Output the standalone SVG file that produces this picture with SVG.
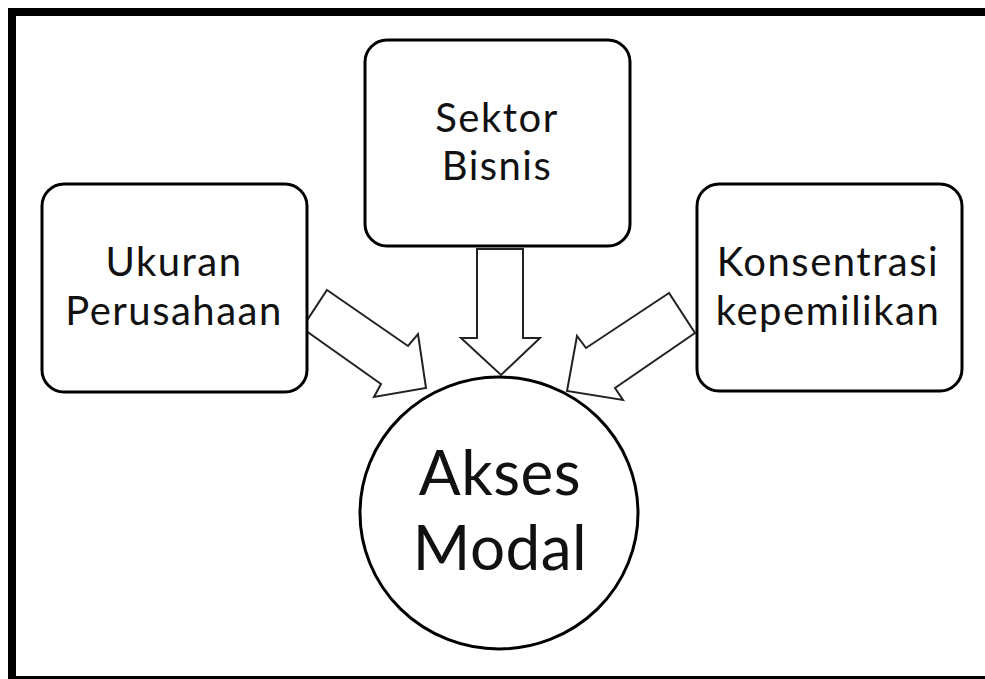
<svg xmlns="http://www.w3.org/2000/svg" width="985" height="679" viewBox="0 0 985 679">
<style>
.box{fill:#fff;stroke:#000;stroke-width:3}
.lbl{font-family:Lato,"Open Sans","Liberation Sans",sans-serif;font-size:40px;letter-spacing:1.5px;fill:#111;text-anchor:middle}
.big{font-size:62px;letter-spacing:0.5px}
.arr{fill:#fff;stroke:#222;stroke-width:2;stroke-linejoin:miter}
</style>
<rect x="0" y="0" width="985" height="679" fill="#fff"/>
<rect x="12" y="12" width="980" height="668" fill="#fff" stroke="#000" stroke-width="8"/>
<g id="connectors">
<polygon class="arr" points="327,290 408,346 418,334 426,388 374,397 381,384 302,328"/>
<polygon class="arr" points="477,249 523,249 523,338 540,338 501,375 461,338 477,338"/>
<polygon class="arr" points="669,293 586,348 577,336 567,391 623,400 615,388 695,333"/>
</g>
<g id="ukuran">
<rect class="box" x="42" y="184" width="265" height="208" rx="22"/>
<text class="lbl" x="174" y="276">Ukuran</text>
<text class="lbl" x="174" y="325">Perusahaan</text>
</g>
<g id="sektor">
<rect class="box" x="365" y="40" width="265" height="206" rx="22"/>
<text class="lbl" x="497" y="132">Sektor</text>
<text class="lbl" x="497" y="180">Bisnis</text>
</g>
<g id="konsentrasi">
<rect class="box" x="697" y="184" width="265" height="207" rx="22"/>
<text class="lbl" x="828" y="276">Konsentrasi</text>
<text class="lbl" x="828" y="325">kepemilikan</text>
</g>
<g id="akses">
<ellipse class="box" cx="499" cy="513" rx="139" ry="136"/>
<text class="lbl big" x="500" y="495">Akses</text>
<text class="lbl big" x="500" y="570">Modal</text>
</g>
</svg>
